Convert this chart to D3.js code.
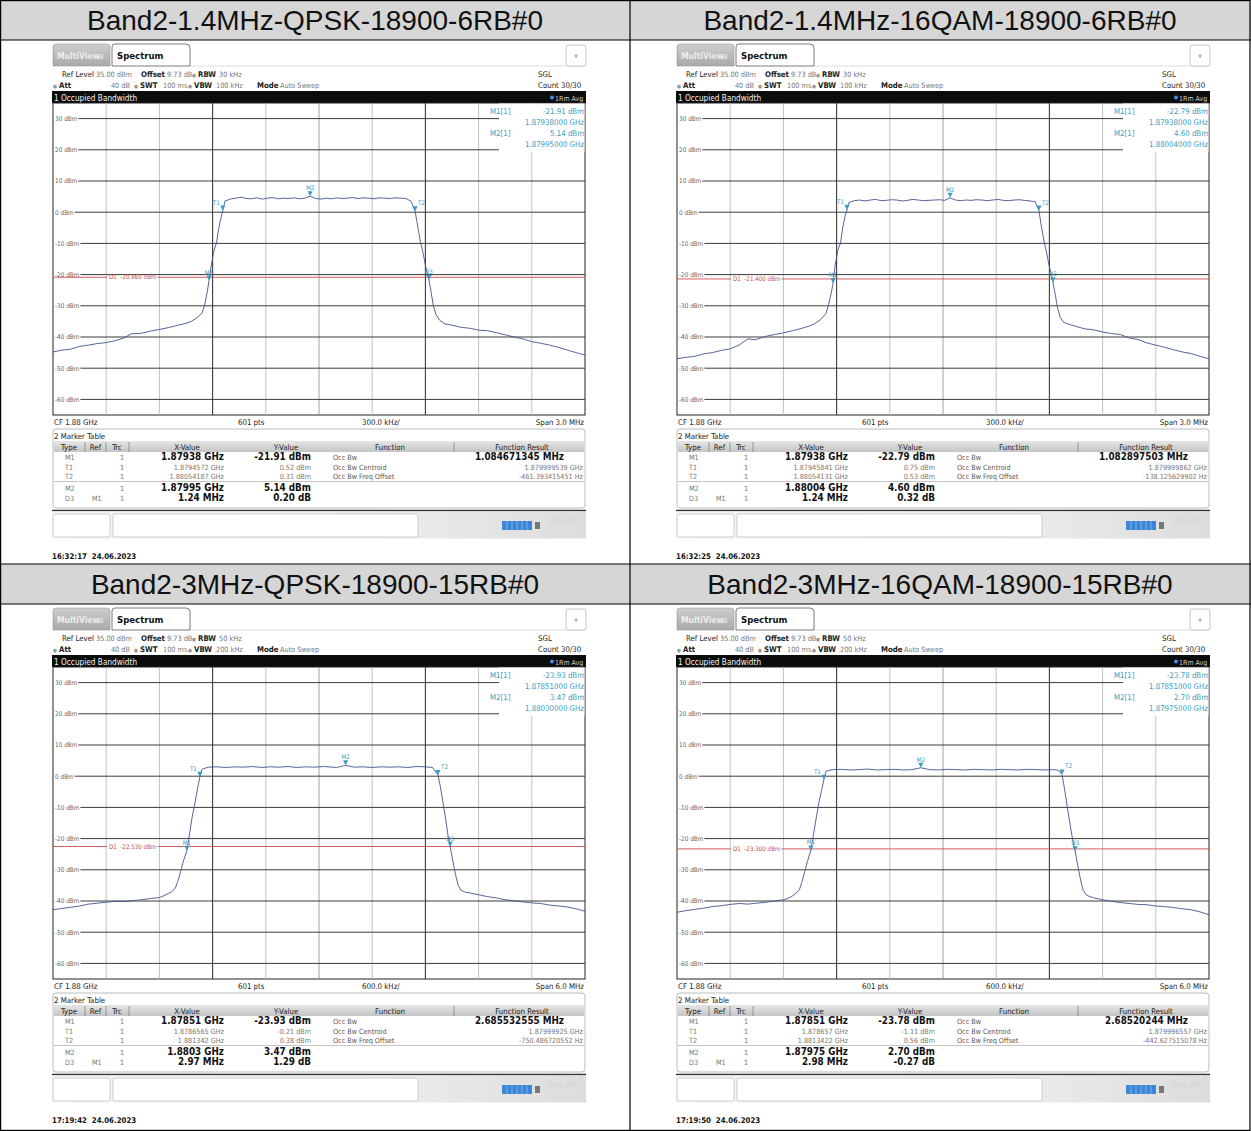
<!DOCTYPE html>
<html>
<head>
<meta charset="utf-8">
<script src="https://cdn.jsdelivr.net/npm/d3@7/dist/d3.min.js"></script>
<style>
  body { margin: 0; background: #fff; }
  svg text { font-family: "DejaVu Sans Condensed", "DejaVu Sans", sans-serif; }
  .title { font-family: "Liberation Sans", Arial, sans-serif; }
</style>
</head>
<body>
<svg id="chart"></svg>
<script>
// ---- values ----
const titles = ["Band2-1.4MHz-QPSK-18900-6RB#0", "Band2-1.4MHz-16QAM-18900-6RB#0",
                "Band2-3MHz-QPSK-18900-15RB#0", "Band2-3MHz-16QAM-18900-15RB#0"];
const rbwText = ["30 kHz", "30 kHz", "50 kHz", "50 kHz"];
const vbwText = ["100 kHz", "100 kHz", "200 kHz", "200 kHz"];
const spanMHz = [3, 3, 6, 6];
const perDivText = ["300.0 kHz/", "300.0 kHz/", "600.0 kHz/", "600.0 kHz/"];
const spanText = ["Span 3.0 MHz", "Span 3.0 MHz", "Span 6.0 MHz", "Span 6.0 MHz"];
const displayLine = [-20.86, -21.40, -22.53, -23.30];
const stamps = ["16:32:17  24.06.2023", "16:32:25  24.06.2023", "17:19:42  24.06.2023", "17:19:50  24.06.2023"];
const yTicks = [30, 20, 10, 0, -10, -20, -30, -40, -50, -60];

const markerBox = [
  [["M1[1]", "-21.91 dBm", "1.87938000 GHz"], ["M2[1]", "5.14 dBm", "1.87995000 GHz"]],
  [["M1[1]", "-22.79 dBm", "1.87938000 GHz"], ["M2[1]", "4.60 dBm", "1.88004000 GHz"]],
  [["M1[1]", "-23.93 dBm", "1.87851000 GHz"], ["M2[1]", "3.47 dBm", "1.88030000 GHz"]],
  [["M1[1]", "-23.78 dBm", "1.87851000 GHz"], ["M2[1]", "2.70 dBm", "1.87975000 GHz"]]
];

// type, ref, trc, x-value, y-value, function, function result
const markerTable = [
  [["M1", "", "1", "1.87938 GHz", "-21.91 dBm", "Occ Bw", "1.084671345 MHz"],
   ["T1", "", "1", "1.8794572 GHz", "0.52 dBm", "Occ Bw Centroid", "1.879999539 GHz"],
   ["T2", "", "1", "1.88054187 GHz", "0.31 dBm", "Occ Bw Freq Offset", "-461.393415451 Hz"],
   ["M2", "", "1", "1.87995 GHz", "5.14 dBm", "", ""],
   ["D3", "M1", "1", "1.24 MHz", "0.20 dB", "", ""]],
  [["M1", "", "1", "1.87938 GHz", "-22.79 dBm", "Occ Bw", "1.082897503 MHz"],
   ["T1", "", "1", "1.87945841 GHz", "0.75 dBm", "Occ Bw Centroid", "1.879999862 GHz"],
   ["T2", "", "1", "1.88054131 GHz", "0.53 dBm", "Occ Bw Freq Offset", "-138.125629902 Hz"],
   ["M2", "", "1", "1.88004 GHz", "4.60 dBm", "", ""],
   ["D3", "M1", "1", "1.24 MHz", "0.32 dB", "", ""]],
  [["M1", "", "1", "1.87851 GHz", "-23.93 dBm", "Occ Bw", "2.685532555 MHz"],
   ["T1", "", "1", "1.8786565 GHz", "-0.21 dBm", "Occ Bw Centroid", "1.87999925 GHz"],
   ["T2", "", "1", "1.881342 GHz", "0.38 dBm", "Occ Bw Freq Offset", "-750.486720552 Hz"],
   ["M2", "", "1", "1.8803 GHz", "3.47 dBm", "", ""],
   ["D3", "M1", "1", "2.97 MHz", "1.29 dB", "", ""]],
  [["M1", "", "1", "1.87851 GHz", "-23.78 dBm", "Occ Bw", "2.68520244 MHz"],
   ["T1", "", "1", "1.878657 GHz", "-1.11 dBm", "Occ Bw Centroid", "1.879996557 GHz"],
   ["T2", "", "1", "1.8813422 GHz", "0.56 dBm", "Occ Bw Freq Offset", "-442.627515078 Hz"],
   ["M2", "", "1", "1.87975 GHz", "2.70 dBm", "", ""],
   ["D3", "M1", "1", "2.98 MHz", "-0.27 dB", "", ""]]
];

// marker positions: name, offset from 1.88 GHz (MHz), level (dBm)
const markerPoints = [
  [["M1", -0.62, -21.91], ["T1", -0.5428, 0.52], ["T2", 0.5419, 0.31], ["M2", -0.05, 5.14], ["D3", 0.62, -21.71]],
  [["M1", -0.62, -22.79], ["T1", -0.5416, 0.75], ["T2", 0.5413, 0.53], ["M2", 0.04, 4.60], ["D3", 0.62, -22.47]],
  [["M1", -1.49, -23.93], ["T1", -1.3435, -0.21], ["T2", 1.342, 0.38], ["M2", 0.30, 3.47], ["D3", 1.48, -22.64]],
  [["M1", -1.49, -23.78], ["T1", -1.343, -1.11], ["T2", 1.3422, 0.56], ["M2", -0.25, 2.70], ["D3", 1.49, -24.05]]
];

// traces: [offset MHz, dBm]
const traceA = [[-1.5,-44.8],[-1.45,-44.2],[-1.4,-43.9],[-1.35,-43.0],[-1.3,-42.6],[-1.25,-42.1],[-1.2,-41.8],[-1.15,-41.2],
  [-1.1,-40.3],[-1.06,-39.0],[-1.0,-38.8],[-0.95,-38.1],[-0.9,-37.6],[-0.85,-37.0],[-0.8,-36.3],[-0.75,-35.6],[-0.72,-35.0],
  [-0.69,-33.9],[-0.66,-32.3],[-0.645,-29.8],[-0.63,-25.5],[-0.62,-21.91],[-0.608,-17.2],[-0.593,-12.5],[-0.578,-9.8],
  [-0.565,-5.0],[-0.552,-1.6],[-0.5428,0.52],[-0.53,3.6],[-0.5,4.2],[-0.47,4.5],[-0.44,4.8],[-0.41,4.4],[-0.38,4.3],
  [-0.35,4.6],[-0.32,4.2],[-0.29,4.5],[-0.26,4.7],[-0.23,4.3],[-0.2,4.5],[-0.17,4.4],[-0.14,4.6],[-0.11,4.3],[-0.08,4.5],
  [-0.05,5.14],[-0.02,4.4],[0.01,4.2],[0.04,4.5],[0.07,4.3],[0.1,4.6],[0.13,4.4],[0.16,4.5],[0.19,4.7],[0.22,4.4],
  [0.25,4.6],[0.28,4.5],[0.31,4.3],[0.34,4.6],[0.37,4.5],[0.4,4.4],[0.43,4.6],[0.46,4.5],[0.49,4.4],[0.52,3.5],
  [0.5419,0.31],[0.552,-3.0],[0.562,-6.2],[0.572,-9.5],[0.582,-11.8],[0.592,-14.6],[0.602,-17.5],[0.612,-19.8],
  [0.62,-21.71],[0.632,-25.5],[0.645,-30.0],[0.66,-32.8],[0.68,-34.6],[0.71,-35.8],[0.75,-36.2],[0.8,-36.9],[0.85,-37.2],
  [0.9,-37.8],[0.95,-38.0],[1.0,-38.6],[1.05,-39.3],[1.1,-40.0],[1.15,-40.6],[1.2,-41.5],[1.25,-42.0],[1.3,-42.6],
  [1.35,-43.3],[1.4,-44.2],[1.45,-45.0],[1.5,-45.8]];

const traceB = [[-1.5,-47.0],[-1.45,-46.5],[-1.4,-46.2],[-1.35,-45.4],[-1.3,-45.0],[-1.25,-44.3],[-1.2,-43.8],[-1.15,-42.6],
  [-1.1,-40.6],[-1.06,-40.9],[-1.0,-39.8],[-0.95,-39.2],[-0.9,-38.7],[-0.85,-38.0],[-0.8,-37.3],[-0.75,-36.4],[-0.72,-35.6],
  [-0.69,-34.4],[-0.66,-32.5],[-0.645,-29.6],[-0.63,-25.8],[-0.62,-22.79],[-0.608,-17.0],[-0.593,-12.2],[-0.578,-9.9],
  [-0.565,-4.8],[-0.552,-1.2],[-0.5416,0.75],[-0.53,3.1],[-0.5,3.7],[-0.47,3.9],[-0.44,3.6],[-0.41,3.9],[-0.38,4.1],
  [-0.35,3.7],[-0.32,3.8],[-0.29,4.0],[-0.26,3.9],[-0.23,3.6],[-0.2,3.8],[-0.17,4.1],[-0.14,3.9],[-0.11,3.7],[-0.08,3.8],
  [-0.05,3.9],[-0.02,4.0],[0.01,3.8],[0.04,4.60],[0.07,3.9],[0.1,3.7],[0.13,3.9],[0.16,3.8],[0.19,4.0],[0.22,3.9],
  [0.25,3.7],[0.28,3.9],[0.31,4.1],[0.34,3.8],[0.37,3.7],[0.4,3.9],[0.43,4.0],[0.46,3.8],[0.49,3.6],[0.52,3.3],
  [0.5413,0.53],[0.552,-3.6],[0.562,-6.8],[0.572,-10.0],[0.582,-12.4],[0.592,-15.3],[0.602,-18.0],[0.612,-20.2],
  [0.62,-22.47],[0.632,-26.0],[0.645,-30.4],[0.66,-33.6],[0.68,-35.3],[0.71,-35.9],[0.75,-36.6],[0.8,-37.4],[0.85,-37.7],
  [0.9,-38.4],[0.95,-38.9],[1.0,-39.2],[1.05,-40.3],[1.1,-40.8],[1.15,-41.9],[1.2,-42.6],[1.25,-43.3],[1.3,-44.1],
  [1.35,-44.8],[1.4,-45.3],[1.45,-46.2],[1.5,-47.0]];

const traceC = [[-3.0,-42.8],[-2.9,-42.4],[-2.8,-42.0],[-2.7,-41.6],[-2.6,-41.0],[-2.5,-40.7],[-2.4,-40.4],[-2.3,-40.1],
  [-2.2,-40.2],[-2.1,-39.9],[-2.0,-39.6],[-1.9,-39.2],[-1.8,-38.9],[-1.75,-38.3],[-1.7,-37.6],[-1.66,-37.0],[-1.62,-35.8],
  [-1.59,-33.5],[-1.56,-30.5],[-1.53,-27.2],[-1.49,-23.93],[-1.46,-18.5],[-1.43,-13.0],[-1.4,-8.8],[-1.37,-4.0],
  [-1.3435,-0.21],[-1.32,2.2],[-1.25,2.9],[-1.15,3.0],[-1.05,2.8],[-0.95,3.0],[-0.85,2.9],[-0.75,3.1],[-0.65,2.8],
  [-0.55,3.0],[-0.45,2.9],[-0.35,3.1],[-0.25,2.8],[-0.15,3.0],[-0.05,2.9],[0.05,3.1],[0.15,2.9],[0.2,2.8],[0.3,3.47],
  [0.4,2.9],[0.5,3.0],[0.6,2.8],[0.7,3.0],[0.8,2.9],[0.9,3.0],[1.0,2.8],[1.1,3.1],[1.2,3.0],[1.28,2.8],[1.342,0.38],
  [1.37,-3.5],[1.4,-8.8],[1.43,-14.0],[1.455,-19.0],[1.48,-22.64],[1.51,-27.3],[1.54,-31.6],[1.57,-35.0],[1.6,-36.5],
  [1.65,-37.2],[1.7,-37.4],[1.8,-38.0],[1.9,-38.6],[2.0,-39.0],[2.1,-39.6],[2.2,-39.9],[2.3,-40.3],[2.4,-40.6],
  [2.5,-40.8],[2.6,-41.3],[2.7,-41.6],[2.8,-41.9],[2.9,-42.5],[3.0,-43.3]];

const traceD = [[-3.0,-43.6],[-2.9,-43.1],[-2.8,-42.7],[-2.7,-42.3],[-2.6,-41.8],[-2.5,-41.5],[-2.4,-41.1],[-2.3,-40.8],
  [-2.2,-41.0],[-2.1,-40.7],[-2.0,-40.4],[-1.9,-40.0],[-1.8,-39.6],[-1.75,-39.2],[-1.7,-38.4],[-1.66,-37.6],[-1.62,-36.4],
  [-1.59,-33.8],[-1.56,-30.6],[-1.53,-27.4],[-1.49,-23.78],[-1.46,-18.6],[-1.43,-13.4],[-1.4,-8.5],[-1.37,-4.6],
  [-1.343,-1.11],[-1.32,1.6],[-1.25,2.1],[-1.15,2.2],[-1.05,2.0],[-0.95,2.1],[-0.85,2.3],[-0.75,2.0],[-0.65,2.1],
  [-0.55,2.2],[-0.45,2.0],[-0.35,2.1],[-0.25,2.70],[-0.15,2.1],[-0.05,2.0],[0.05,2.2],[0.15,2.1],[0.25,2.0],[0.35,2.2],
  [0.45,2.1],[0.55,2.0],[0.65,2.2],[0.75,2.1],[0.85,2.0],[0.95,2.2],[1.05,2.1],[1.15,2.0],[1.25,2.1],[1.3,1.9],
  [1.3422,0.56],[1.37,-4.0],[1.4,-9.5],[1.43,-15.0],[1.46,-20.0],[1.49,-24.05],[1.52,-28.6],[1.55,-33.0],[1.58,-36.6],
  [1.62,-38.2],[1.7,-39.0],[1.8,-39.6],[1.9,-40.1],[2.0,-40.5],[2.1,-40.8],[2.2,-41.1],[2.3,-41.2],[2.4,-41.6],
  [2.5,-41.8],[2.6,-42.1],[2.7,-42.5],[2.8,-42.8],[2.9,-43.5],[3.0,-44.4]];

const traces = [traceA, traceB, traceC, traceD];

// ---- layout ----
const panelPos = [[52, 0], [676, 0], [52, 564], [676, 564]];
const PW = 534;
const teal = "#3a9cc0";

const svg = d3.select("#chart").attr("width", 1251).attr("height", 1131);
svg.append("rect").attr("width", 1251).attr("height", 1131).attr("fill", "#fff");

const defs = svg.append("defs");
const g1 = defs.append("linearGradient").attr("id", "hdrGrad").attr("x1", 0).attr("y1", 0).attr("x2", 0).attr("y2", 1);
g1.append("stop").attr("offset", "0%").attr("stop-color", "#e6e6e6");
g1.append("stop").attr("offset", "100%").attr("stop-color", "#c4c4c4");
const g2 = defs.append("linearGradient").attr("id", "tabGrad").attr("x1", 0).attr("y1", 0).attr("x2", 0).attr("y2", 1);
g2.append("stop").attr("offset", "0%").attr("stop-color", "#cfcfcf");
g2.append("stop").attr("offset", "100%").attr("stop-color", "#a9a9a9");
const g3 = defs.append("linearGradient").attr("id", "footGrad").attr("x1", 0).attr("y1", 0).attr("x2", 1).attr("y2", 0);
g3.append("stop").attr("offset", "0%").attr("stop-color", "#f4f4f4");
g3.append("stop").attr("offset", "60%").attr("stop-color", "#eeeeee");
g3.append("stop").attr("offset", "100%").attr("stop-color", "#dcdcdc");

// title rows
[0, 564].forEach(ty => {
  svg.append("rect").attr("x", 0).attr("y", ty).attr("width", 1251).attr("height", 40).attr("fill", "#d6d6d6");
});
titles.forEach((t, i) => {
  svg.append("text").attr("class", "title")
    .attr("x", i % 2 ? 940 : 315).attr("y", (i < 2 ? 0 : 564) + 30)
    .attr("text-anchor", "middle").attr("font-size", 28).attr("fill", "#111").text(t);
});

// table borders
const bd = svg.append("g").attr("stroke", "#000").attr("stroke-width", 1.2).attr("fill", "none");
bd.append("rect").attr("x", 0.6).attr("y", 0.6).attr("width", 1249.4).attr("height", 1129.8);
[40, 564, 604].forEach(v => bd.append("line").attr("x1", 0).attr("x2", 1251).attr("y1", v).attr("y2", v));
bd.append("line").attr("x1", 630).attr("x2", 630).attr("y1", 0).attr("y2", 1131);

function txt(g, x, y, s, size, fill, opt = {}) {
  const e = g.append("text").attr("x", x).attr("y", y).attr("font-size", size).attr("fill", fill)
    .style("white-space", "pre").text(s);
  if (opt.anchor) e.attr("text-anchor", opt.anchor);
  if (opt.bold) e.attr("font-weight", "bold");
  return e;
}

function drawPanel(i) {
  const [px, py] = panelPos[i];
  const g = svg.append("g").attr("transform", `translate(${px},${py})`);
  const span = spanMHz[i];
  const x = d3.scaleLinear().domain([-span / 2, span / 2]).range([1, 533]);
  const y = d3.scaleLinear().domain([35, -65]).range([103, 415]);

  // tabs
  g.append("path").attr("d", "M1,66 L1,47 Q1,44 4,44 L55,44 Q58,44 58,47 L58,66 Z")
    .attr("fill", "url(#tabGrad)").attr("stroke", "#999").attr("stroke-width", 0.6);
  txt(g, 5, 59, "MultiView", 8.5, "#ececec", { bold: true });
  txt(g, 46, 59, "\u229E", 8, "#ececec");
  g.append("path").attr("d", "M60,66 L60,47 Q60,44 63,44 L134,44 Q138,44 138,48 L138,66 Z")
    .attr("fill", "#fff").attr("stroke", "#444").attr("stroke-width", 0.7);
  txt(g, 65, 59, "Spectrum", 9.5, "#111", { bold: true });
  g.append("line").attr("x1", 138).attr("x2", PW).attr("y1", 66).attr("y2", 66).attr("stroke", "#bbb").attr("stroke-width", 0.5);
  g.append("rect").attr("x", 514).attr("y", 45).attr("width", 20).attr("height", 21).attr("rx", 2)
    .attr("fill", "#fff").attr("stroke", "#b0b0b0").attr("stroke-width", 0.7);
  txt(g, 524, 58, "\u25BC", 5, "#aaa", { anchor: "middle" });

  // setting lines
  const dk = "#222", lt = "#777";
  txt(g, 10, 77, "Ref Level", 7.8, dk);
  txt(g, 44, 77, "35.00 dBm", 7.3, lt);
  txt(g, 89, 77, "Offset", 7.8, dk, { bold: true });
  txt(g, 115, 77, "9.73 dB", 7.3, lt);
  txt(g, 140, 77, "\u25CF", 5, "#999");
  txt(g, 146, 77, "RBW", 7.8, dk, { bold: true });
  txt(g, 167, 77, rbwText[i], 7.3, lt);
  txt(g, 1, 88, "\u25CF", 5, "#999");
  txt(g, 7, 88, "Att", 7.8, dk, { bold: true });
  txt(g, 78, 88, "40 dB", 7.3, lt, { anchor: "end" });
  txt(g, 82, 88, "\u25CF", 5, "#999");
  txt(g, 88, 88, "SWT", 7.8, dk, { bold: true });
  txt(g, 111, 88, "100 ms", 7.3, lt);
  txt(g, 136, 88, "\u25CF", 5, "#999");
  txt(g, 142, 88, "VBW", 7.8, dk, { bold: true });
  txt(g, 164, 88, vbwText[i], 7.3, lt);
  txt(g, 205, 88, "Mode", 7.8, dk, { bold: true });
  txt(g, 228, 88, "Auto Sweep", 7.3, lt);
  txt(g, 486, 77, "SGL", 7.8, dk);
  txt(g, 486, 88, "Count 30/30", 7.8, dk);

  // window title bar
  g.append("rect").attr("x", 0).attr("y", 91).attr("width", PW).attr("height", 12).attr("fill", "#0c0c0c");
  txt(g, 2, 100.5, "1 Occupied Bandwidth", 8.2, "#f2f2f2");
  g.append("circle").attr("cx", 500).attr("cy", 97.5).attr("r", 2).attr("fill", "#4a90e0");
  txt(g, 503, 100.5, "1Rm Avg", 7, "#cfcfcf");

  // diagram
  g.append("rect").attr("x", 1).attr("y", 103).attr("width", 532).attr("height", 312)
    .attr("fill", "#fff").attr("stroke", "#222").attr("stroke-width", 1);

  const grid = g.append("g");
  d3.range(1, 10).forEach(k => {
    const xv = x(-span / 2 + k * span / 10);
    grid.append("line").attr("x1", xv).attr("x2", xv).attr("y1", 103).attr("y2", 415)
      .attr("stroke", (k === 3 || k === 7) ? "#3c3c3c" : (k === 5 ? "#8a8a8a" : "#b4b4b4"))
      .attr("stroke-width", (k === 3 || k === 7) ? 1.1 : 0.8);
  });
  yTicks.forEach(v => {
    const lbl = txt(g, 3, y(v) + 2.3, `${v} dBm`, 6.4, "#666");
    const w = lbl.node().getComputedTextLength();
    grid.append("line").attr("x1", 3 + w + 1).attr("x2", 533).attr("y1", y(v)).attr("y2", y(v))
      .attr("stroke", "#3a3a3a").attr("stroke-width", 1);
  });
  // marker info box area
  g.append("rect").attr("x", 447).attr("y", 103.6).attr("width", 85.5).attr("height", 48.5).attr("fill", "#fff");
  markerBox[i].forEach((m, j) => {
    const by = 114 + j * 22;
    txt(g, 438, by, m[0], 7.8, teal);
    txt(g, 532, by, m[1], 7.8, teal, { anchor: "end" });
    txt(g, 532, by + 11, m[2], 7.8, teal, { anchor: "end" });
  });

  // display line
  const dy = y(displayLine[i]);
  const dl = txt(g, 57, dy + 2.2, `D1  ${displayLine[i].toFixed(3)} dBm`, 6.2, "#c94a4a");
  const dw = dl.node().getComputedTextLength();
  g.append("line").attr("x1", 1).attr("x2", 55).attr("y1", dy).attr("y2", dy).attr("stroke", "#d24b4b").attr("stroke-width", 0.9);
  g.append("line").attr("x1", 57 + dw + 1).attr("x2", 533).attr("y1", dy).attr("y2", dy).attr("stroke", "#d24b4b").attr("stroke-width", 0.9);

  // trace
  const line = d3.line().x(d => x(d[0])).y(d => y(d[1]));
  g.append("path").datum(traces[i]).attr("d", line)
    .attr("fill", "none").attr("stroke", "#44528f").attr("stroke-width", 0.9).attr("stroke-linejoin", "round");

  // markers
  markerPoints[i].forEach(([name, f, lv]) => {
    const mx = x(f), my = y(lv);
    g.append("path").attr("d", `M${mx - 2.6},${my - 5} L${mx + 2.6},${my - 5} L${mx},${my} Z`).attr("fill", teal);
    let lx = mx, anchor = "middle";
    if (name === "T1") { lx = mx - 3; anchor = "end"; }
    if (name === "T2") { lx = mx + 3; anchor = "start"; }
    txt(g, lx, my - 6, name, 6.2, teal, { anchor });
  });

  // bottom info line
  txt(g, 2, 425, "CF 1.88 GHz", 7.8, "#222");
  txt(g, 186, 425, "601 pts", 7.8, "#222");
  txt(g, 310, 425, perDivText[i], 7.8, "#222");
  txt(g, 532, 425, spanText[i], 7.8, "#222", { anchor: "end" });

  // marker table
  g.append("rect").attr("x", 1).attr("y", 429).attr("width", 532).attr("height", 79).attr("rx", 3)
    .attr("fill", "#fff").attr("stroke", "#aaa").attr("stroke-width", 0.8);
  txt(g, 2, 439, "2 Marker Table", 7.8, "#222");
  g.append("rect").attr("x", 2).attr("y", 441).attr("width", 530).attr("height", 11).attr("fill", "url(#hdrGrad)");
  [33, 54, 77, 402].forEach(sx => g.append("line").attr("x1", sx).attr("x2", sx).attr("y1", 442).attr("y2", 452)
    .attr("stroke", "#777").attr("stroke-width", 0.7));
  [["Type", 17], ["Ref", 43.5], ["Trc", 65], ["X-Value", 135], ["Y-Value", 234], ["Function", 338], ["Function Result", 470]]
    .forEach(([h, hx]) => txt(g, hx, 450, h, 7.8, "#222", { anchor: "middle" }));
  g.append("line").attr("x1", 2).attr("x2", 532).attr("y1", 481.5).attr("y2", 481.5).attr("stroke", "#c4c4c4").attr("stroke-width", 1.2);
  const rowY = [460, 469.5, 478.5, 491, 501];
  markerTable[i].forEach((r, j) => {
    const ry = rowY[j];
    const big = j === 0 || j >= 3;
    txt(g, 13, ry, r[0], 7.2, "#777");
    txt(g, 40, ry, r[1], 7.2, "#777");
    txt(g, 68, ry, r[2], 7.2, "#777");
    if (big) {
      txt(g, 172, ry, r[3], 9.8, "#111", { anchor: "end", bold: true });
      txt(g, 259, ry, r[4], 9.8, "#111", { anchor: "end", bold: true });
    } else {
      txt(g, 172, ry, r[3], 7.2, "#777", { anchor: "end" });
      txt(g, 259, ry, r[4], 7.2, "#777", { anchor: "end" });
    }
    txt(g, 281, ry, r[5], 7.2, "#555");
    if (j === 0) txt(g, 512, ry, r[6], 9.8, "#111", { anchor: "end", bold: true });
    else txt(g, 531, ry, r[6], 7.2, "#777", { anchor: "end" });
  });

  // soft key / status area
  g.append("line").attr("x1", 0).attr("x2", PW).attr("y1", 510.5).attr("y2", 510.5).attr("stroke", "#333").attr("stroke-width", 1.4);
  g.append("rect").attr("x", 0).attr("y", 511.5).attr("width", PW).attr("height", 27).attr("fill", "url(#footGrad)");
  g.append("rect").attr("x", 1).attr("y", 514).attr("width", 57).attr("height", 23).attr("rx", 2)
    .attr("fill", "#fff").attr("stroke", "#bbb").attr("stroke-width", 0.7);
  g.append("rect").attr("x", 61).attr("y", 514).attr("width", 305).attr("height", 23).attr("rx", 2)
    .attr("fill", "#fff").attr("stroke", "#bbb").attr("stroke-width", 0.7);
  g.append("rect").attr("x", 450).attr("y", 521).attr("width", 30).attr("height", 9).attr("fill", "#3b86d6");
  d3.range(1, 6).forEach(k => g.append("line").attr("x1", 450 + k * 5).attr("x2", 450 + k * 5)
    .attr("y1", 521).attr("y2", 530).attr("stroke", "#a8cdf2").attr("stroke-width", 0.6));
  g.append("rect").attr("x", 483).attr("y", 522).attr("width", 5).attr("height", 7).attr("fill", "#777");
  txt(g, 496, 523, "24.06.2023", 6, "#d2d2d2");

  // timestamp
  txt(g, 0, 559, stamps[i], 7.8, "#111", { bold: true });
}

d3.range(4).forEach(drawPanel);
</script>
</body>
</html>
